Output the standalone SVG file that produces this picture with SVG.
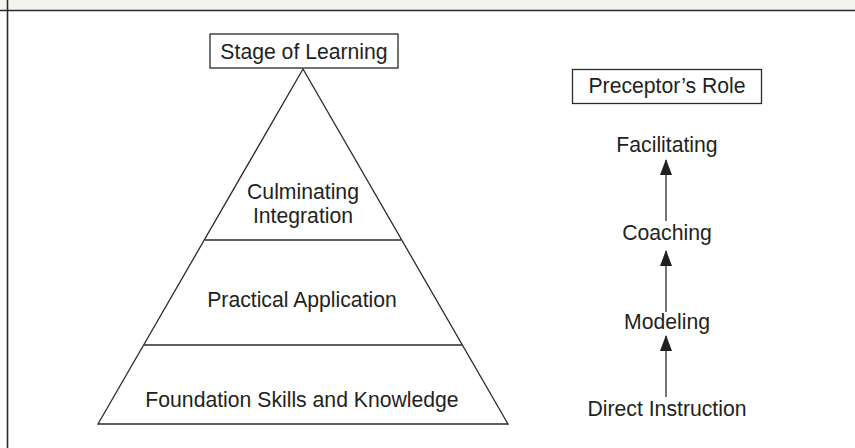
<svg xmlns="http://www.w3.org/2000/svg" width="855" height="448" viewBox="0 0 855 448">
<style>
  text { font-family: "Liberation Sans", Arial, sans-serif; font-size: 21.2px; fill: #231f20; text-anchor: middle; }
  .ln { stroke: #2a2a2a; stroke-width: 1.3; fill: none; }
  .box { stroke: #2a2a2a; stroke-width: 1.3; fill: #ffffff; }
</style>
<defs>
  <marker id="ah" viewBox="0 0 16 12" refX="15" refY="6" markerWidth="16" markerHeight="12" markerUnits="userSpaceOnUse" orient="auto">
    <path d="M0,0 L16,6 L0,12 Z" fill="#231f20"/>
  </marker>
</defs>
<rect x="0" y="0" width="855" height="448" fill="#ffffff"/>
<g id="frame">
  <rect x="0" y="0" width="855" height="10" fill="#f4f3ec"/>
  <line x1="0" y1="10.5" x2="855" y2="10.5" stroke="#2a2a2a" stroke-width="1.6"/>
  <line x1="7.5" y1="0" x2="7.5" y2="448" stroke="#2a2a2a" stroke-width="1.6"/>
</g>
<g id="pyramid">
  <polygon class="ln" points="303,69 98,424 508,424"/>
  <line class="ln" x1="205" y1="240" x2="401" y2="240"/>
  <line class="ln" x1="144" y1="345" x2="462" y2="345"/>
</g>
<g id="stage-title">
  <rect class="box" x="210" y="34" width="188" height="34"/>
  <text x="304" y="58.5">Stage of Learning</text>
</g>
<g id="culminating">
  <text x="303" y="199">Culminating</text>
  <text x="303" y="222.5">Integration</text>
</g>
<g id="practical">
  <text x="302" y="306.5">Practical Application</text>
</g>
<g id="foundation">
  <text x="302" y="407">Foundation Skills and Knowledge</text>
</g>
<g id="role-title">
  <rect class="box" x="572.5" y="69.5" width="189" height="34"/>
  <text x="667" y="92.5">Preceptor’s Role</text>
</g>
<g id="facilitating"><text x="667" y="151.5">Facilitating</text></g>
<g id="coaching"><text x="667" y="240">Coaching</text></g>
<g id="modeling"><text x="667" y="328.5">Modeling</text></g>
<g id="direct"><text x="667" y="415.5">Direct Instruction</text></g>
<g id="connectors">
  <line class="ln" x1="666" y1="221" x2="666" y2="160" marker-end="url(#ah)"/>
  <line class="ln" x1="666" y1="312" x2="666" y2="251" marker-end="url(#ah)"/>
  <line class="ln" x1="666" y1="397" x2="666" y2="336" marker-end="url(#ah)"/>
</g>
</svg>
